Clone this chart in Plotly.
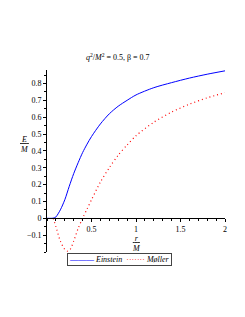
import plotly.graph_objects as go

r_einstein = [0, 0.05, 0.08, 0.1, 0.15, 0.2, 0.25, 0.3, 0.35, 0.4, 0.45, 0.5, 0.6, 0.7, 0.8, 0.9, 1.0, 1.2, 1.4, 1.6, 1.8, 2.0]
e_einstein = [0, 0, 0.002, 0.008, 0.05, 0.11, 0.19, 0.265, 0.33, 0.39, 0.44, 0.485, 0.56, 0.62, 0.665, 0.70, 0.732, 0.775, 0.805, 0.832, 0.855, 0.875]

r_moller = [0.07, 0.1, 0.15, 0.2, 0.23, 0.26, 0.3, 0.35, 0.4, 0.45, 0.5, 0.6, 0.7, 0.8, 0.9, 1.0, 1.2, 1.4, 1.6, 1.8, 2.0]
e_moller = [0, -0.05, -0.135, -0.185, -0.195, -0.185, -0.135, -0.06, 0.0, 0.055, 0.11, 0.215, 0.30, 0.375, 0.435, 0.49, 0.57, 0.63, 0.677, 0.715, 0.745]

series_names = ["Einstein", "Møller"]
series_colors = ["#0000ff", "#ff0000"]

y_ticks = [-0.1, 0, 0.1, 0.2, 0.3, 0.4, 0.5, 0.6, 0.7, 0.8]
x_ticks = [0.5, 1, 1.5, 2]

FONT = "Liberation Serif"
YMIN, YMAX = -0.2, 0.88

fig = go.Figure()
fig.add_trace(go.Scatter(x=r_einstein, y=e_einstein, mode="lines", name=series_names[0], showlegend=False,
                         line=dict(color=series_colors[0], width=1, shape="spline", smoothing=0.8)))
fig.add_trace(go.Scatter(x=r_moller, y=e_moller, mode="lines", name=series_names[1], showlegend=False,
                         line=dict(color=series_colors[1], width=1.2, dash="1px,3px", shape="spline", smoothing=0.8)))

fig.update_layout(
    width=245, height=317,
    margin=dict(l=47, r=20, t=70, b=65, autoexpand=False),
    paper_bgcolor="white", plot_bgcolor="white",
    font=dict(family=FONT, size=8, color="black"),
    showlegend=False,
    xaxis=dict(range=[0, 2], showgrid=False, zeroline=False, showline=True, linecolor="black",
               linewidth=1, anchor="free", position=(0 - YMIN) / (YMAX - YMIN), automargin=False,
               tickvals=x_ticks, ticktext=[str(v) for v in x_ticks], ticks="outside",
               ticklen=3, tickcolor="black",
               minor=dict(dtick=0.1, ticks="outside", ticklen=2, tickcolor="black")),
    yaxis=dict(range=[YMIN, YMAX], showgrid=False, zeroline=False, showline=True, linecolor="black",
               linewidth=1, automargin=False, tickvals=y_ticks,
               ticktext=[("−0.1" if v < 0 else ("0" if v == 0 else str(v))) for v in y_ticks],
               ticks="outside", ticklen=3, tickcolor="black",
               minor=dict(dtick=0.05, ticks="outside", ticklen=2, tickcolor="black")),
)

fig.add_annotation(text="<i>q</i><sup>2</sup>/<i>M</i><sup>2</sup> = 0.5, β = 0.7",
                   xref="paper", yref="paper", x=0.40, y=1.07, yanchor="middle", showarrow=False,
                   font=dict(size=8, family=FONT))
fig.add_annotation(text="<u>&nbsp;<i>E</i>&nbsp;</u><br><i>M</i>",
                   xref="paper", yref="paper", x=-0.163, y=0.59, yanchor="middle", showarrow=False,
                   font=dict(size=8, family=FONT))
fig.add_annotation(text="<u>&nbsp;<i>r</i>&nbsp;</u><br><i>M</i>",
                   xref="paper", yref="paper", x=0.5, y=0.112, yanchor="top", showarrow=False,
                   font=dict(size=8, family=FONT))

legend_text = (f"<span style='color:{series_colors[0]}'>———</span> <i>{series_names[0]}</i>  "
               f"<span style='color:{series_colors[1]}'>·······</span> <i>{series_names[1]}</i>")
fig.add_annotation(text=legend_text, xref="paper", yref="paper", x=0.112, y=-0.003,
                   xanchor="left", yanchor="top", showarrow=False, align="left",
                   bordercolor="#444", borderwidth=1, borderpad=1, bgcolor="white",
                   font=dict(size=8, family=FONT))

fig.write_html("out.html", config={"displayModeBar": False},
               post_script="document.body.style.margin='0';document.body.style.padding='0';")
